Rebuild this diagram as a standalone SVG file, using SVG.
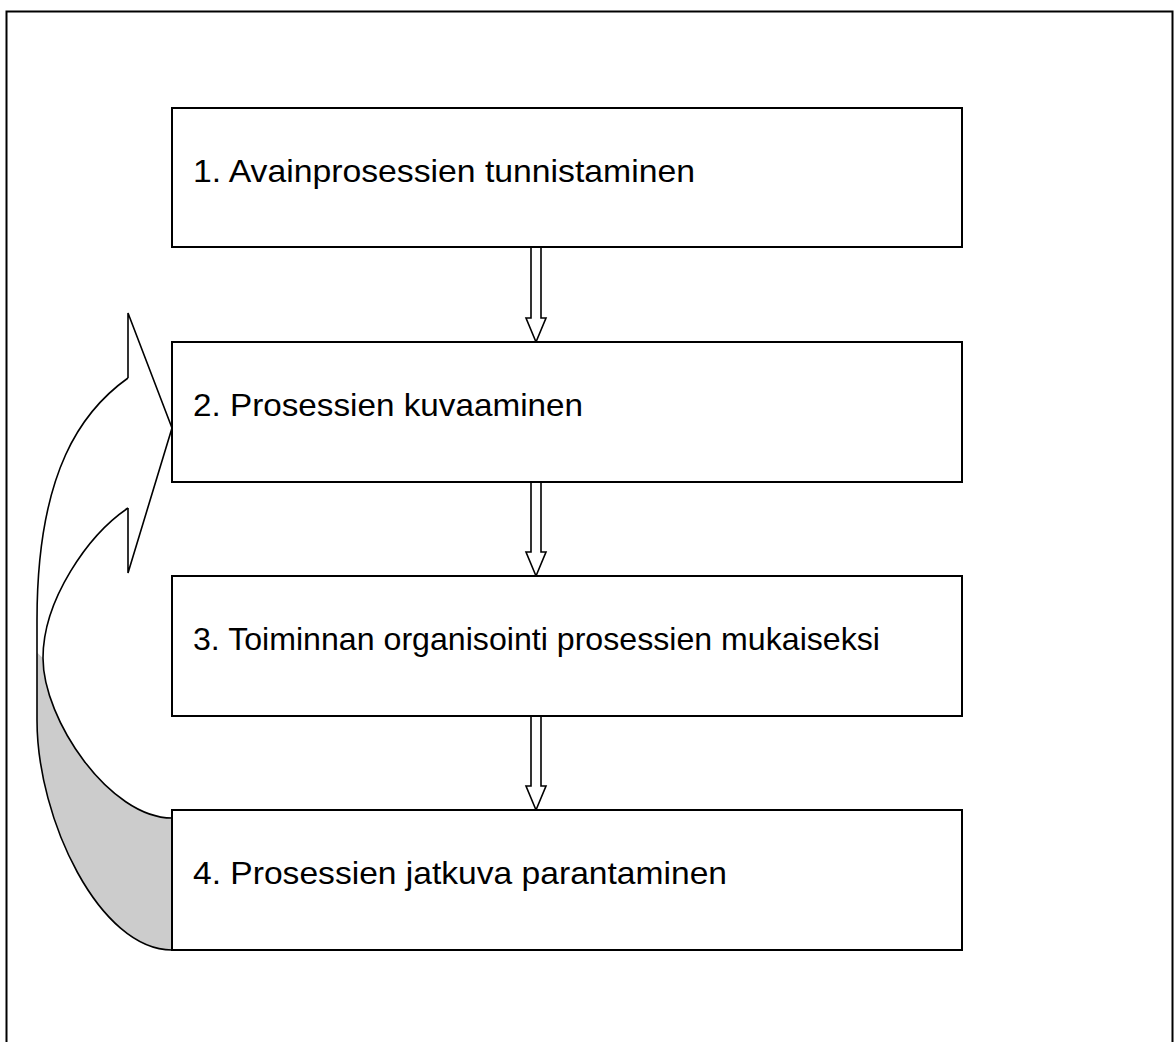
<svg xmlns="http://www.w3.org/2000/svg" width="1176" height="1042" viewBox="0 0 1176 1042">
  <style>
    .frame { fill: #fff; stroke: #000; stroke-width: 2; }
    .box { fill: #fff; stroke: #000; stroke-width: 2; }
    .label { font-family: "Liberation Sans", Arial, sans-serif; font-size: 32px; fill: #000; }
    .blk { fill: #fff; stroke: #000; stroke-width: 1.6; stroke-linejoin: miter; }
    .loop-line { fill: none; stroke: #000; stroke-width: 1.6; stroke-linejoin: miter; }
    .loop-back { fill: #cccccc; stroke: none; }
  </style>

  <!-- page frame -->
  <rect class="frame" x="6.5" y="11.5" width="1166" height="1060"/>

  <!-- connectors: block arrows between steps and the feedback loop -->
  <g id="connectors">
    <path class="blk" d="M531,247 L541,247 L541,318 L546,318 L536,342 L526,318 L531,318 Z"/>
    <path class="blk" d="M531,482 L541,482 L541,552 L546,552 L536,576 L526,552 L531,552 Z"/>
    <path class="blk" d="M531,716 L541,716 L541,786 L546,786 L536,810 L526,786 L531,786 Z"/>

    <g id="loop">
      <!-- shaded back part of the curved band -->
      <path class="loop-back" d="M43,658 C43,720 110,818 172,818 L172,950 C100,950 37,820 37,720 L37,652 Z"/>
      <!-- front part of the curved band -->
      <path d="M128,378 C83,410 37,470 37,620 L37,652 L43,658 C43,600 88,535 128,508 Z" fill="#fff" stroke="none"/>
      <!-- outlines -->
      <path class="loop-line" d="M128,378 C83,410 37,470 37,620 L37,720 C37,820 100,950 172,950"/>
      <path class="loop-line" d="M128,508 C88,535 43,600 43,658 C43,720 110,818 172,818"/>
      <path class="loop-line" d="M128,378 L128,313 L172,428 L128,573 L128,508"/>
    </g>
  </g>

  <g id="step1">
    <rect class="box" x="172" y="108" width="790" height="139"/>
    <text class="label" x="193" y="182" textLength="502" lengthAdjust="spacingAndGlyphs">1. Avainprosessien tunnistaminen</text>
  </g>
  <g id="step2">
    <rect class="box" x="172" y="342" width="790" height="140"/>
    <text class="label" x="193" y="416" textLength="390" lengthAdjust="spacingAndGlyphs">2. Prosessien kuvaaminen</text>
  </g>
  <g id="step3">
    <rect class="box" x="172" y="576" width="790" height="140"/>
    <text class="label" x="193" y="650" textLength="687" lengthAdjust="spacingAndGlyphs">3. Toiminnan organisointi prosessien mukaiseksi</text>
  </g>
  <g id="step4">
    <rect class="box" x="172" y="810" width="790" height="140"/>
    <text class="label" x="193" y="884" textLength="534" lengthAdjust="spacingAndGlyphs">4. Prosessien jatkuva parantaminen</text>
  </g>
</svg>
